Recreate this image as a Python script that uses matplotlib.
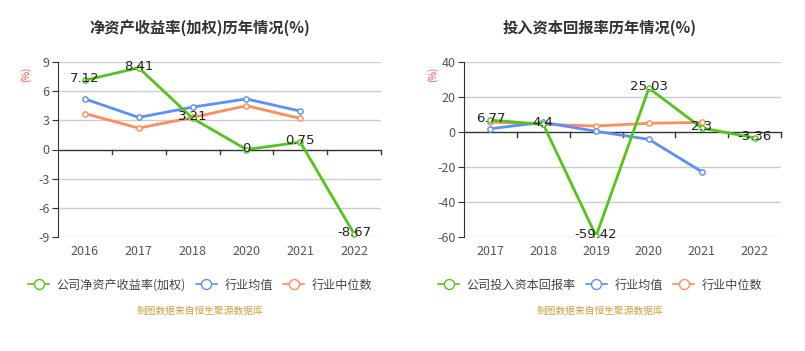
import matplotlib
matplotlib.use("Agg")
import matplotlib.pyplot as plt
import numpy as np

plt.rcParams['font.family'] = ['Noto Sans CJK SC', 'DejaVu Sans']

# Left chart data
roe_years = ['2016', '2017', '2018', '2020', '2021', '2022']
roe_company = [7.12, 8.41, 3.21, 0, 0.75, -8.67]
roe_avg = [5.2, 3.3, 4.36, 5.2, 3.95]
roe_median = [3.7, 2.2, 3.3, 4.5, 3.2]
roe_ticks = [-9, -6, -3, 0, 3, 6, 9]

# Right chart data
roic_years = ['2017', '2018', '2019', '2020', '2021', '2022']
roic_company = [6.77, 4.4, -59.42, 25.03, 2.3, -3.36]
roic_avg = [1.9, 5.5, 0.4, -4.2, -22.7]
roic_median = [5.7, 4.4, 3.4, 5.0, 5.5]
roic_ticks = [-60, -40, -20, 0, 20, 40]

titles = ['净资产收益率(加权)历年情况(%)', '投入资本回报率历年情况(%)']
legend_labels = [['公司净资产收益率(加权)', '行业均值', '行业中位数'],
                 ['公司投入资本回报率', '行业均值', '行业中位数']]
source_text = '制图数据来自恒生聚源数据库'

GREEN = '#52c41a'
BLUE = '#5b8ff9'
ORANGE = '#ff8c5a'

W, H = 805, 351
fig = plt.figure(figsize=(W / 100, H / 100), dpi=100)

def px_axes(x0, x1, y0, y1):
    return fig.add_axes([x0 / W, 1 - y1 / H, (x1 - x0) / W, (y1 - y0) / H])

def draw(ax, years, comp, avg, med, ticks, center_x, title, labels):
    n = len(years)
    x = np.arange(n)
    ax.set_xlim(-0.5, n - 0.5)
    ax.set_ylim(ticks[0], ticks[-1])
    for t in ticks:
        if t != 0:
            ax.axhline(t, color='#cccccc', lw=1, zorder=0)
    ax.axhline(0, color='#333333', lw=1, zorder=1)
    yr = ticks[-1] - ticks[0]
    for b in np.arange(n) + 0.5:
        ax.plot([b, b], [0, -yr * 0.028], color='#333333', lw=1, zorder=1, clip_on=False)
    for s in ['top', 'right', 'bottom']:
        ax.spines[s].set_visible(False)
    ax.spines['left'].set_color('#333333')
    ax.set_yticks(ticks)
    ax.set_yticklabels([str(t) for t in ticks], fontsize=9, color='#555555')
    ax.tick_params(axis='y', length=4, color='#333333', pad=2)
    ax.set_xticks(x)
    ax.set_xticklabels(years, fontsize=9, color='#555555')
    ax.tick_params(axis='x', length=0, pad=6)
    mk = dict(marker='o', markersize=3.8, markerfacecolor='white', markeredgewidth=1)
    ax.plot(x[:len(med)], med, color=ORANGE, lw=2, zorder=3, **mk)
    ax.plot(x[:len(avg)], avg, color=BLUE, lw=2, zorder=3, **mk)
    ax.plot(x, comp, color=GREEN, lw=2, zorder=4, **mk)
    for xi, v in zip(x, comp):
        ax.annotate(f'{v:g}', (xi, v), xytext=(0, 1), textcoords='offset points',
                    ha='center', va='center', fontsize=9.5, color='#222222', zorder=5,
                    family='DejaVu Sans')
    ax.text(-0.1, 0.93, '(%)', transform=ax.transAxes, rotation=90, color='#ff4d4f',
            fontsize=7, ha='center', va='center')
    fig.text(center_x / W, 1 - 28 / H, title, ha='center', va='center',
             fontsize=11, fontweight='bold', color='#333333')
    # legend
    lax = fig.add_axes([(center_x - 200) / W, 1 - 297 / H, 400 / W, 24 / H])
    lax.set_axis_off()
    handles = []
    for c in [GREEN, BLUE, ORANGE]:
        h, = lax.plot([], [], color=c, lw=1.2, marker='o', markersize=7.2,
                      markerfacecolor='white', markeredgewidth=1)
        handles.append(h)
    lax.legend(handles, labels, loc='center', ncol=3, frameon=False, fontsize=8.7,
               handlelength=1.8, handletextpad=0.6, columnspacing=0.8,
               labelcolor='#444444')
    fig.text(center_x / W, 1 - 311 / H, source_text, ha='center', va='center',
             fontsize=7, color='#c9a13f')

ax1 = px_axes(58, 381, 62, 237)
draw(ax1, roe_years, roe_company, roe_avg, roe_median, roe_ticks, 200, titles[0], legend_labels[0])
ax2 = px_axes(464, 781, 62, 237)
draw(ax2, roic_years, roic_company, roic_avg, roic_median, roic_ticks, 600, titles[1], legend_labels[1])

fig.savefig('out.png', dpi=100)
